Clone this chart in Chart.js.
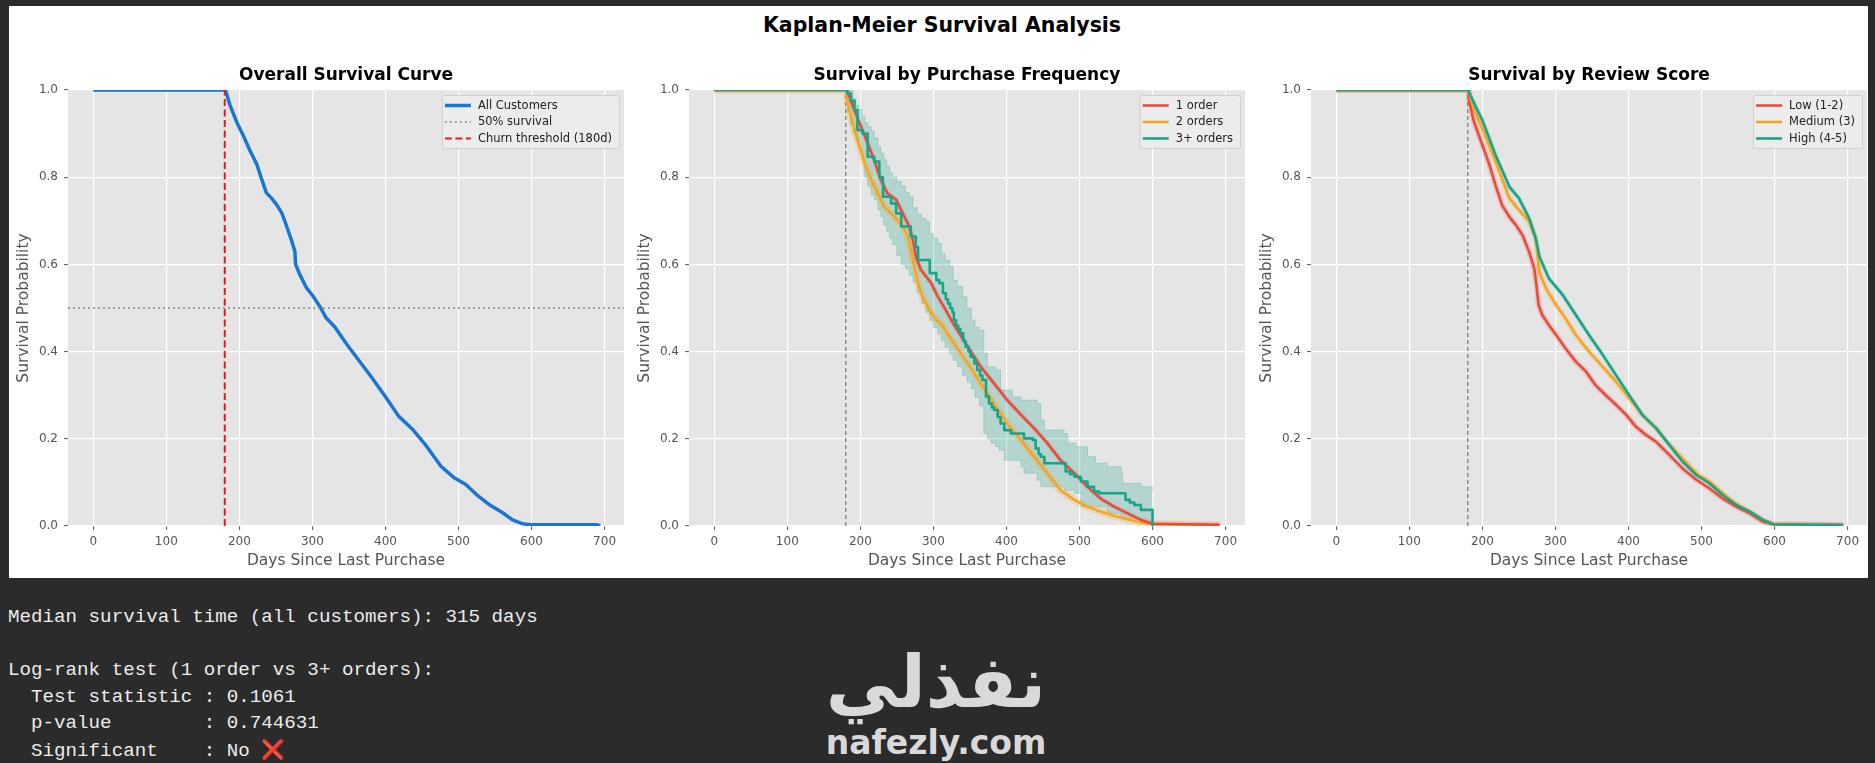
<!DOCTYPE html>
<html>
<head>
<meta charset="utf-8">
<title>Kaplan-Meier Survival Analysis</title>
<script src="https://cdn.jsdelivr.net/npm/chart.js@4.4.1/dist/chart.umd.min.js"></script>
<style>
  html, body { margin: 0; padding: 0; background: #2b2b2b; width: 1875px; height: 763px; overflow: hidden; }
  #sheet { position: absolute; left: 9px; top: 6px; width: 1859px; height: 572px; background: #fff; }
  #mainTitle { position: absolute; left: 742px; top: 13px; width: 400px; text-align: center;
    font: bold 20.5px "DejaVu Sans"; line-height: 24px; color: #000; }
  canvas.panel { position: absolute; top: 55px; }
  #console { position: absolute; left: 8px; top: 604px; margin: 0; font-family: "Liberation Mono", monospace;
    font-size: 19.2px; line-height: 26.5px; color: #ececec; white-space: pre; }
  .cross { color: #f04e6c; font-family: "DejaVu Sans"; font-weight: bold; }
  .wm { position: absolute; left: 786px; width: 300px; text-align: center; color: #d9d9d9;
    font-family: "DejaVu Sans"; font-weight: bold; }
  #wmAr { top: 645px; font-size: 72px; line-height: 74px; }
  #wmEn { top: 723px; font-size: 33px; line-height: 40px; }
</style>
</head>
<body>
<div id="sheet"></div>
<div id="mainTitle">Kaplan-Meier Survival Analysis</div>
<canvas id="overallChart" class="panel" width="620" height="523" style="left:10px"></canvas>
<canvas id="frequencyChart" class="panel" width="620" height="523" style="left:631px"></canvas>
<canvas id="reviewChart" class="panel" width="620" height="523" style="left:1253px"></canvas>
<pre id="console">Median survival time (all customers): 315 days

Log-rank test (1 order vs 3+ orders):
  Test statistic : 0.1061
  p-value        : 0.744631
  Significant    : No <span class="cross">❌</span></pre>
<div id="wmAr" class="wm">نفذلي</div>
<div id="wmEn" class="wm">nafezly.com</div>

<script>
// axis ticks
const xTicks = [0, 100, 200, 300, 400, 500, 600, 700];
const yTicks = [0, 0.2, 0.4, 0.6, 0.8, 1.0];
const xMin = -34.6, xMax = 726.6;

// reference lines
const churnDays = [180, 180];
const churnSurv = [0, 1];
const halfDays = [xMin, xMax];
const halfSurv = [0.5, 0.5];

// overall curve
const allDays = [0, 181, 187, 196, 205, 214, 224, 230, 237, 244, 251, 258, 264, 271, 276, 277, 283, 292, 301, 310, 319, 331, 347, 364, 381, 401, 418, 437, 454, 476, 493, 510, 526, 543, 560, 574, 588, 599, 689, 694];
const allSurv = [1.0, 1.0, 0.966, 0.928, 0.897, 0.863, 0.829, 0.798, 0.764, 0.752, 0.737, 0.718, 0.691, 0.657, 0.63, 0.60, 0.576, 0.546, 0.527, 0.504, 0.477, 0.456, 0.417, 0.379, 0.341, 0.294, 0.252, 0.222, 0.188, 0.137, 0.112, 0.095, 0.07, 0.048, 0.031, 0.014, 0.005, 0.003, 0.003, 0.0];

// by purchase frequency
const oneDays = [0, 181, 185, 190, 199, 210, 219, 228, 237, 249, 258, 267, 272, 276, 283, 297, 306, 317, 327, 347, 365, 383, 401, 420, 438, 456, 474, 493, 511, 529, 548, 566, 584, 600, 692];
const oneSurv = [1.0, 1.0, 0.985, 0.962, 0.924, 0.878, 0.839, 0.794, 0.763, 0.748, 0.717, 0.687, 0.656, 0.618, 0.587, 0.557, 0.526, 0.495, 0.465, 0.411, 0.365, 0.327, 0.289, 0.255, 0.224, 0.19, 0.151, 0.121, 0.09, 0.063, 0.044, 0.029, 0.014, 0.005, 0.003];

const twoDays = [0, 181, 182, 187, 196, 206, 215, 224, 233, 247, 258, 265, 269, 274, 279, 285, 295, 304, 310, 328, 347, 365, 383, 401, 420, 438, 456, 474, 493, 511, 529, 548, 566, 584, 600, 690];
const twoSurv = [1.0, 1.0, 0.977, 0.939, 0.885, 0.832, 0.794, 0.763, 0.732, 0.709, 0.687, 0.664, 0.633, 0.595, 0.557, 0.526, 0.495, 0.472, 0.465, 0.419, 0.373, 0.327, 0.281, 0.235, 0.197, 0.159, 0.121, 0.082, 0.06, 0.044, 0.033, 0.023, 0.015, 0.008, 0.004, 0.002];

const threeDays = [0, 182, 187, 192, 196, 203, 210, 219, 226, 231, 242, 249, 256, 269, 276, 279, 295, 304, 308, 313, 317, 320, 323, 326, 328, 331, 334, 337, 341, 344, 348, 351, 356, 360, 364, 367, 372, 376, 380, 383, 388, 392, 397, 406, 424, 436, 440, 444, 447, 452, 481, 487, 493, 502, 511, 520, 527, 563, 569, 575, 584, 600];
const threeSurv = [1.0, 0.992, 0.975, 0.954, 0.908, 0.90, 0.847, 0.836, 0.80, 0.755, 0.74, 0.717, 0.687, 0.664, 0.64, 0.61, 0.58, 0.564, 0.557, 0.534, 0.52, 0.51, 0.50, 0.49, 0.472, 0.46, 0.452, 0.442, 0.425, 0.411, 0.40, 0.388, 0.373, 0.358, 0.345, 0.335, 0.297, 0.281, 0.272, 0.266, 0.25, 0.235, 0.22, 0.212, 0.201, 0.197, 0.178, 0.165, 0.159, 0.144, 0.125, 0.119, 0.113, 0.102, 0.09, 0.079, 0.075, 0.06, 0.054, 0.048, 0.037, 0.0];

// confidence band for 3+ orders
const bandDays = [181, 182, 186, 190, 194, 198, 202, 206, 210, 215, 219, 224, 228, 232, 236, 240, 244, 250, 256, 262, 267, 272, 278, 284, 290, 295, 300, 306, 311, 316, 322, 327, 333, 340, 346, 352, 357, 363, 369, 374, 379, 385, 390, 392, 397, 408, 420, 424, 442, 447, 452, 479, 484, 493, 495, 502, 511, 522, 538, 557, 559, 584, 600];
const threeUpper = [1.0, 1.0, 1.0, 0.98, 0.965, 0.955, 0.94, 0.925, 0.915, 0.905, 0.89, 0.87, 0.855, 0.84, 0.825, 0.81, 0.80, 0.79, 0.78, 0.765, 0.755, 0.73, 0.715, 0.705, 0.698, 0.671, 0.66, 0.648, 0.625, 0.61, 0.595, 0.564, 0.55, 0.526, 0.50, 0.472, 0.455, 0.449, 0.396, 0.365, 0.365, 0.358, 0.358, 0.312, 0.312, 0.296, 0.289, 0.289, 0.281, 0.243, 0.22, 0.212, 0.19, 0.19, 0.182, 0.182, 0.159, 0.144, 0.136, 0.121, 0.098, 0.09, 0.082];
const threeLower = [1.0, 0.95, 0.92, 0.90, 0.885, 0.865, 0.84, 0.80, 0.78, 0.76, 0.748, 0.725, 0.71, 0.69, 0.675, 0.66, 0.645, 0.62, 0.60, 0.59, 0.575, 0.56, 0.535, 0.51, 0.49, 0.472, 0.455, 0.44, 0.425, 0.41, 0.395, 0.38, 0.365, 0.345, 0.33, 0.315, 0.295, 0.275, 0.212, 0.20, 0.19, 0.182, 0.174, 0.174, 0.151, 0.151, 0.136, 0.121, 0.105, 0.09, 0.09, 0.082, 0.082, 0.075, 0.075, 0.044, 0.044, 0.044, 0.029, 0.018, 0.018, 0.006, 0.0];

// by review score
const lowDays = [0, 181, 182, 188, 200, 209, 218, 227, 237, 246, 255, 264, 271, 274, 277, 282, 291, 301, 314, 328, 342, 355, 369, 383, 397, 410, 424, 438, 456, 474, 493, 511, 529, 548, 566, 584, 598, 694];
const lowSurv = [1.0, 1.0, 0.975, 0.93, 0.874, 0.832, 0.782, 0.736, 0.709, 0.69, 0.667, 0.629, 0.591, 0.553, 0.507, 0.484, 0.461, 0.438, 0.407, 0.377, 0.354, 0.323, 0.30, 0.278, 0.255, 0.228, 0.209, 0.193, 0.163, 0.132, 0.106, 0.086, 0.063, 0.044, 0.029, 0.01, 0.004, 0.002];

const medDays = [0, 181, 183, 190, 200, 218, 237, 250, 264, 273, 278, 287, 301, 314, 328, 346, 365, 383, 401, 419, 438, 456, 474, 493, 511, 529, 548, 566, 584, 598, 694];
const medSurv = [1.0, 1.0, 0.985, 0.95, 0.912, 0.836, 0.752, 0.725, 0.698, 0.66, 0.583, 0.545, 0.507, 0.476, 0.438, 0.40, 0.365, 0.331, 0.293, 0.255, 0.224, 0.186, 0.155, 0.121, 0.102, 0.075, 0.05, 0.033, 0.014, 0.004, 0.002];

const highDays = [0, 181, 183, 190, 200, 218, 237, 250, 264, 273, 278, 291, 310, 328, 346, 365, 383, 401, 419, 438, 456, 474, 493, 511, 529, 548, 566, 584, 598, 694];
const highSurv = [1.0, 1.0, 0.99, 0.965, 0.931, 0.851, 0.778, 0.752, 0.706, 0.66, 0.618, 0.568, 0.53, 0.484, 0.438, 0.392, 0.346, 0.30, 0.255, 0.224, 0.186, 0.148, 0.117, 0.098, 0.071, 0.048, 0.033, 0.014, 0.004, 0.002];

const BLUE = '#1976d2';
const RED = '#e74c3c';
const ORANGE = '#f5a524';
const TEAL = '#17a589';

const pts = (xs, ys) => xs.map((x, i) => ({ x: x, y: ys[i] }));

Chart.defaults.font.family = '"DejaVu Sans"';
Chart.defaults.animation = false;

// grey plot background like the ggplot style
const plotBg = {
    id: 'plotBg',
    beforeDraw(chart) {
        const { ctx, chartArea: a } = chart;
        ctx.save();
        ctx.fillStyle = '#e5e5e5';
        ctx.fillRect(a.left, a.top, a.right - a.left, a.bottom - a.top);
        ctx.restore();
    }
};

// panel title centred over the plot area
const panelTitle = {
    id: 'panelTitle',
    afterDraw(chart, args, opts) {
        const { ctx, chartArea: a } = chart;
        ctx.save();
        ctx.font = 'bold 17px "DejaVu Sans"';
        ctx.fillStyle = '#000';
        ctx.textAlign = 'center';
        ctx.textBaseline = 'middle';
        ctx.fillText(opts.text, (a.left + a.right) / 2, a.top - 14);
        ctx.restore();
    }
};

// boxed legend in the upper right corner
const boxLegend = {
    id: 'boxLegend',
    afterDatasetsDraw(chart, args, opts) {
        const { ctx, chartArea: a } = chart;
        const items = opts.items.map(i => chart.data.datasets[i]);
        ctx.save();
        ctx.font = '11.5px "DejaVu Sans"';
        const textW = Math.max(...items.map(d => ctx.measureText(d.label).width));
        const padL = 3, handle = 26, gap = 7, padR = 7, rowH = 16.5;
        const w = padL + handle + gap + textW + padR;
        const h = 20 + (items.length - 1) * rowH;
        const x0 = a.right - 5 - w, y0 = a.top + 5;
        ctx.fillStyle = 'rgba(236,236,236,0.9)';
        ctx.strokeStyle = '#d0d0d0';
        ctx.lineWidth = 1;
        ctx.beginPath();
        ctx.roundRect(x0 + 0.5, y0 + 0.5, w, h, 2);
        ctx.fill();
        ctx.stroke();
        items.forEach((d, k) => {
            const cy = y0 + 10.5 + k * rowH;
            ctx.strokeStyle = d.borderColor;
            ctx.lineWidth = d.borderWidth;
            ctx.setLineDash(d.borderDash || []);
            ctx.beginPath();
            ctx.moveTo(x0 + padL, cy);
            ctx.lineTo(x0 + padL + handle, cy);
            ctx.stroke();
            ctx.setLineDash([]);
            ctx.fillStyle = '#222';
            ctx.textAlign = 'left';
            ctx.textBaseline = 'middle';
            ctx.fillText(d.label, x0 + padL + handle + gap, cy + 0.5);
        });
        ctx.restore();
    }
};

const makeScales = () => ({
    x: {
        type: 'linear',
        min: xMin,
        max: xMax,
        afterBuildTicks: s => { s.ticks = xTicks.map(v => ({ value: v })); },
        afterFit: s => { s.height = 52; },
        ticks: { color: '#555', font: { size: 12 }, padding: 5, maxRotation: 0, autoSkip: false, callback: v => String(v) },
        grid: { color: '#ffffff', lineWidth: 1.2, tickLength: 4, tickColor: '#555', tickWidth: 1 },
        border: { display: false },
        title: { display: true, text: 'Days Since Last Purchase', color: '#555', font: { size: 15.5 }, padding: { top: 0, bottom: 7.7 } }
    },
    y: {
        type: 'linear',
        min: 0,
        max: 1,
        afterBuildTicks: s => { s.ticks = yTicks.map(v => ({ value: v })); },
        afterFit: s => { s.width = 58; },
        ticks: { color: '#555', font: { size: 12 }, padding: 6, callback: v => v.toFixed(1) },
        grid: { color: '#ffffff', lineWidth: 1.2, tickLength: 4, tickColor: '#555', tickWidth: 1 },
        border: { display: false },
        title: { display: true, text: 'Survival Probability', color: '#555', font: { size: 15.5 }, padding: { top: 4.7, bottom: 0 } }
    }
});

const baseOptions = (title, legendItems) => ({
    responsive: false,
    animation: false,
    layout: { padding: { top: 35, right: 6, bottom: 0, left: 0 } },
    elements: { point: { radius: 0 }, line: { tension: 0, fill: false, borderJoinStyle: 'round' } },
    scales: makeScales(),
    plugins: {
        legend: { display: false },
        tooltip: { enabled: false },
        panelTitle: { text: title },
        boxLegend: { items: legendItems }
    }
});

const plugins = [plotBg, panelTitle, boxLegend];

// Overall survival
new Chart(document.getElementById('overallChart').getContext('2d'), {
    type: 'line',
    data: {
        datasets: [
            { label: 'All Customers', data: pts(allDays, allSurv), borderColor: BLUE, borderWidth: 3.5, order: 2 },
            { label: '50% survival', data: pts(halfDays, halfSurv), borderColor: '#888888', borderWidth: 1.6, borderDash: [2, 3], order: 1 },
            { label: 'Churn threshold (180d)', data: pts(churnDays, churnSurv), borderColor: '#e31a1a', borderWidth: 2, borderDash: [7, 3.5], order: 0 }
        ]
    },
    options: baseOptions('Overall Survival Curve', [0, 1, 2]),
    plugins: plugins
});

// Survival by purchase frequency
new Chart(document.getElementById('frequencyChart').getContext('2d'), {
    type: 'line',
    data: {
        datasets: [
            { label: '1 order', data: pts(oneDays, oneSurv), borderColor: RED, borderWidth: 2.6, order: 1 },
            { label: '2 orders', data: pts(twoDays, twoSurv), borderColor: ORANGE, borderWidth: 2.6, order: 2 },
            { label: '3+ orders', data: pts(threeDays, threeSurv), borderColor: TEAL, borderWidth: 2.6, stepped: 'before', order: 0 },
            { label: '3+ upper', data: pts(bandDays, threeUpper), borderColor: 'rgba(23,165,137,0.3)', borderWidth: 0.8,
              stepped: 'before', fill: '+1', backgroundColor: 'rgba(23,165,137,0.24)', order: 10 },
            { label: '3+ lower', data: pts(bandDays, threeLower), borderColor: 'rgba(23,165,137,0.3)', borderWidth: 0.8,
              stepped: 'before', order: 11 },
            { label: '1 order ci', data: pts(oneDays, oneSurv), borderColor: 'rgba(231,76,60,0.18)', borderWidth: 5, order: 8 },
            { label: '2 orders ci', data: pts(twoDays, twoSurv), borderColor: 'rgba(245,165,36,0.22)', borderWidth: 8, order: 9 },
            { label: 'threshold', data: pts(churnDays, churnSurv), borderColor: '#777777', borderWidth: 1.2, borderDash: [4, 3], order: 12 }
        ]
    },
    options: baseOptions('Survival by Purchase Frequency', [0, 1, 2]),
    plugins: plugins
});

// Survival by review score
new Chart(document.getElementById('reviewChart').getContext('2d'), {
    type: 'line',
    data: {
        datasets: [
            { label: 'Low (1-2)', data: pts(lowDays, lowSurv), borderColor: RED, borderWidth: 2.6, order: 2 },
            { label: 'Medium (3)', data: pts(medDays, medSurv), borderColor: ORANGE, borderWidth: 2.6, order: 1 },
            { label: 'High (4-5)', data: pts(highDays, highSurv), borderColor: TEAL, borderWidth: 2.6, order: 0 },
            { label: 'Low ci', data: pts(lowDays, lowSurv), borderColor: 'rgba(231,76,60,0.2)', borderWidth: 6, order: 8 },
            { label: 'Medium ci', data: pts(medDays, medSurv), borderColor: 'rgba(245,165,36,0.2)', borderWidth: 6, order: 9 },
            { label: 'High ci', data: pts(highDays, highSurv), borderColor: 'rgba(23,165,137,0.18)', borderWidth: 4.5, order: 10 },
            { label: 'threshold', data: pts(churnDays, churnSurv), borderColor: '#777777', borderWidth: 1.2, borderDash: [4, 3], order: 12 }
        ]
    },
    options: baseOptions('Survival by Review Score', [0, 1, 2]),
    plugins: plugins
});
</script>
</body>
</html>
